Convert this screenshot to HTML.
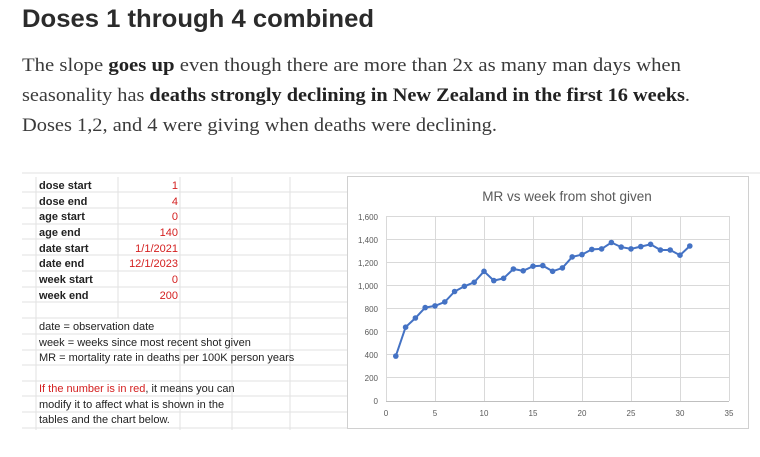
<!DOCTYPE html>
<html><head><meta charset="utf-8"><style>
body{margin:0;width:760px;height:452px;background:#fff;overflow:hidden;font-family:"Liberation Sans",sans-serif}
</style></head><body>
<svg width="760" height="452" xmlns="http://www.w3.org/2000/svg">
<text x="22" y="27" font-family="Liberation Sans, sans-serif" font-weight="bold" font-size="25" fill="#2b2b2b" textLength="352" lengthAdjust="spacingAndGlyphs">Doses 1 through 4 combined</text>
<g font-family="Liberation Serif, serif" font-size="19" fill="#3a3a3a">
<text x="22" y="71" textLength="659" lengthAdjust="spacingAndGlyphs">The slope <tspan font-weight="bold" fill="#222">goes up</tspan> even though there are more than 2x as many man days when</text>
<text x="22" y="101" textLength="668" lengthAdjust="spacingAndGlyphs">seasonality has <tspan font-weight="bold" fill="#222">deaths strongly declining in New Zealand in the first 16 weeks</tspan>.</text>
<text x="22" y="131" textLength="475" lengthAdjust="spacingAndGlyphs">Doses 1,2, and 4 were giving when deaths were declining.</text>
</g>
<g stroke="#e2e2e2" stroke-width="1">
<line x1="22" y1="173" x2="760" y2="173"/>
<line x1="36" y1="177" x2="36" y2="430"/>
<line x1="118" y1="177" x2="118" y2="318"/>
<line x1="180" y1="177" x2="180" y2="430"/>
<line x1="232" y1="177" x2="232" y2="430"/>
<line x1="290" y1="177" x2="290" y2="430"/>
<line x1="22" y1="192" x2="347" y2="192"/><line x1="22" y1="208" x2="347" y2="208"/>
<line x1="22" y1="224" x2="347" y2="224"/><line x1="22" y1="239" x2="347" y2="239"/>
<line x1="22" y1="255" x2="347" y2="255"/><line x1="22" y1="271" x2="347" y2="271"/>
<line x1="22" y1="287" x2="347" y2="287"/><line x1="22" y1="302" x2="347" y2="302"/>
<line x1="22" y1="318" x2="347" y2="318"/><line x1="22" y1="334" x2="347" y2="334"/>
<line x1="22" y1="350" x2="347" y2="350"/><line x1="22" y1="365" x2="347" y2="365"/>
<line x1="22" y1="381" x2="347" y2="381"/><line x1="22" y1="396" x2="347" y2="396"/>
<line x1="22" y1="412" x2="347" y2="412"/><line x1="22" y1="428" x2="347" y2="428"/>
</g>
<g font-size="11" fill="#222">
<g font-weight="bold">
<text x="39" y="189">dose start</text><text x="39" y="205">dose end</text>
<text x="39" y="220">age start</text><text x="39" y="236">age end</text>
<text x="39" y="252">date start</text><text x="39" y="267">date end</text>
<text x="39" y="283">week start</text><text x="39" y="299">week end</text>
</g>
<g fill="#d42020" text-anchor="end">
<text x="178" y="189">1</text><text x="178" y="205">4</text>
<text x="178" y="220">0</text><text x="178" y="236">140</text>
<text x="178" y="252">1/1/2021</text><text x="178" y="267">12/1/2023</text>
<text x="178" y="283">0</text><text x="178" y="299">200</text>
</g>
<text x="39" y="330">date = observation date</text>
<text x="39" y="346">week = weeks since most recent shot given</text>
<text x="39" y="361">MR = mortality rate in deaths per 100K person years</text>
<text x="39" y="392"><tspan fill="#d42020">If the number is in red</tspan>, it means you can</text>
<text x="39" y="408">modify it to affect what is shown in the</text>
<text x="39" y="423">tables and the chart below.</text>
</g>
<rect x="347.5" y="176.5" width="401" height="252" fill="#fff" stroke="#d0d0d0"/>
<text x="567" y="201" text-anchor="middle" font-size="13.5" fill="#595959">MR vs week from shot given</text>
<g stroke="#d9d9d9" stroke-width="1">
<line x1="386" y1="216.5" x2="729" y2="216.5"/><line x1="386" y1="239.5" x2="729" y2="239.5"/>
<line x1="386" y1="262.5" x2="729" y2="262.5"/><line x1="386" y1="285.5" x2="729" y2="285.5"/>
<line x1="386" y1="308.5" x2="729" y2="308.5"/><line x1="386" y1="331.5" x2="729" y2="331.5"/>
<line x1="386" y1="354.5" x2="729" y2="354.5"/><line x1="386" y1="377.5" x2="729" y2="377.5"/>
<line x1="435.5" y1="216" x2="435.5" y2="401"/><line x1="484.5" y1="216" x2="484.5" y2="401"/>
<line x1="533.5" y1="216" x2="533.5" y2="401"/><line x1="582.5" y1="216" x2="582.5" y2="401"/>
<line x1="631.5" y1="216" x2="631.5" y2="401"/><line x1="680.5" y1="216" x2="680.5" y2="401"/>
<line x1="729.5" y1="216" x2="729.5" y2="401"/>
</g>
<line x1="386" y1="401.5" x2="729" y2="401.5" stroke="#bfbfbf"/>
<line x1="386.5" y1="216" x2="386.5" y2="401" stroke="#d9d9d9"/>
<g font-size="8" fill="#595959" text-anchor="end">
<text x="378" y="220">1,600</text><text x="378" y="243">1,400</text><text x="378" y="266">1,200</text>
<text x="378" y="289">1,000</text><text x="378" y="312">800</text><text x="378" y="335">600</text>
<text x="378" y="358">400</text><text x="378" y="381">200</text><text x="378" y="404">0</text>
</g>
<g font-size="8" fill="#595959" text-anchor="middle">
<text x="386" y="416">0</text><text x="435" y="416">5</text><text x="484" y="416">10</text>
<text x="533" y="416">15</text><text x="582" y="416">20</text><text x="631" y="416">25</text>
<text x="680" y="416">30</text><text x="729" y="416">35</text>
</g>
<polyline fill="none" stroke="#4472C4" stroke-width="2" points="395.8,356.1 405.6,327.2 415.4,318 425.2,307.6 435,305.9 444.8,301.9 454.6,291.5 464.4,286.3 474.2,282.3 484,271.3 493.8,280.6 503.6,278.3 513.4,269 523.2,270.8 533,266.2 542.8,265.6 552.6,271.3 562.4,267.9 572.2,256.9 582,254.6 591.8,249.4 601.6,248.9 611.4,242.5 621.2,247.1 631,248.9 640.8,246.6 650.6,244.3 660.4,250 670.2,250 680,255.2 689.8,246"/>
<g fill="#4472C4">
<circle cx="395.8" cy="356.1" r="2.8"/><circle cx="405.6" cy="327.2" r="2.8"/><circle cx="415.4" cy="318" r="2.8"/>
<circle cx="425.2" cy="307.6" r="2.8"/><circle cx="435" cy="305.9" r="2.8"/><circle cx="444.8" cy="301.9" r="2.8"/>
<circle cx="454.6" cy="291.5" r="2.8"/><circle cx="464.4" cy="286.3" r="2.8"/><circle cx="474.2" cy="282.3" r="2.8"/>
<circle cx="484" cy="271.3" r="2.8"/><circle cx="493.8" cy="280.6" r="2.8"/><circle cx="503.6" cy="278.3" r="2.8"/>
<circle cx="513.4" cy="269" r="2.8"/><circle cx="523.2" cy="270.8" r="2.8"/><circle cx="533" cy="266.2" r="2.8"/>
<circle cx="542.8" cy="265.6" r="2.8"/><circle cx="552.6" cy="271.3" r="2.8"/><circle cx="562.4" cy="267.9" r="2.8"/>
<circle cx="572.2" cy="256.9" r="2.8"/><circle cx="582" cy="254.6" r="2.8"/><circle cx="591.8" cy="249.4" r="2.8"/>
<circle cx="601.6" cy="248.9" r="2.8"/><circle cx="611.4" cy="242.5" r="2.8"/><circle cx="621.2" cy="247.1" r="2.8"/>
<circle cx="631" cy="248.9" r="2.8"/><circle cx="640.8" cy="246.6" r="2.8"/><circle cx="650.6" cy="244.3" r="2.8"/>
<circle cx="660.4" cy="250" r="2.8"/><circle cx="670.2" cy="250" r="2.8"/><circle cx="680" cy="255.2" r="2.8"/>
<circle cx="689.8" cy="246" r="2.8"/>
</g>
</svg>
</body></html>
